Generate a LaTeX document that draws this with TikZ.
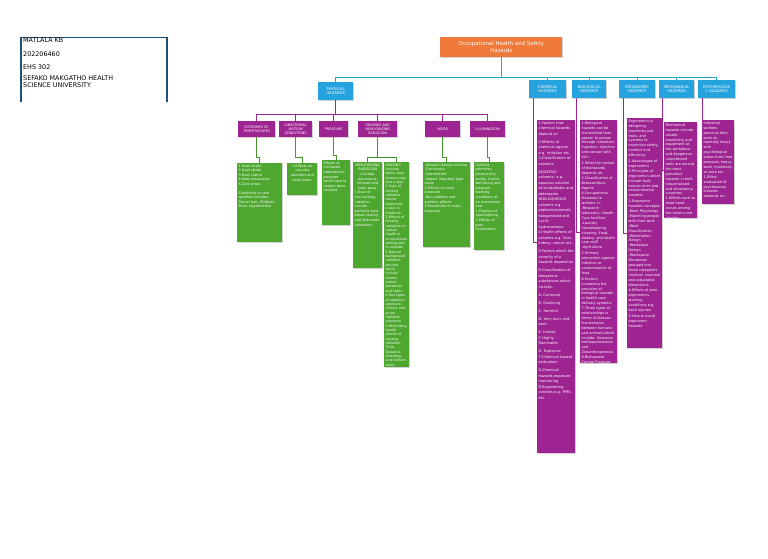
\documentclass[tikz,border=0pt]{standalone}
\usepackage{fontspec}
\setmainfont{DejaVu Sans}
\usetikzlibrary{shadows,calc}
\definecolor{hzorange}{RGB}{240,122,58}
\definecolor{hzblue}{RGB}{36,163,222}
\definecolor{hzpurple}{RGB}{158,36,146}
\definecolor{hzgreen}{RGB}{78,168,48}
\definecolor{hzline}{RGB}{30,80,120}
\newcommand{\boxtxt}[3]{\parbox[t][#2][t]{#1}{\raggedright #3}}
\tikzset{
  boxshadow/.style={drop shadow={opacity=0.35, shadow xshift=0.8pt, shadow yshift=-0.8pt}},
  rootbox/.style={fill=hzorange, text=white, anchor=north west, align=center, inner sep=1pt, font=\fontsize{5.4}{6.6}\selectfont, boxshadow},
  catbox/.style={fill=hzblue, text=white, anchor=north west, align=center, inner sep=0.5pt, minimum height=18pt, font=\fontsize{3.8}{4.6}\selectfont, boxshadow},
  subbox/.style={fill=hzpurple, text=white, anchor=north west, align=center, inner sep=0.5pt, minimum height=16pt, font=\fontsize{3.4}{4.1}\selectfont, boxshadow},
  greenbox/.style={fill=hzgreen, text=white, anchor=north west, inner sep=1.5pt, font=\fontsize{3.4}{4.6}\selectfont, boxshadow},
  purpbox/.style={fill=hzpurple, text=white, anchor=north west, inner sep=1.5pt, font=\fontsize{3.5}{4.9}\selectfont, boxshadow},
  bluelink/.style={draw=hzblue, line width=0.9pt},
  purplink/.style={draw=hzpurple, line width=0.8pt},
  greenlink/.style={draw=hzgreen!90!black, line width=0.8pt}
}
\begin{document}
\begin{tikzpicture}[x=1pt, y=-1pt]
  \useasboundingbox[fill=white] (0,0) rectangle (768,558);

  % student details
  \draw[hzline, line width=0.5pt] (20,37) -- (168,37);
  \draw[hzline, line width=1.6pt] (21,37) -- (21,102);
  \draw[hzline, line width=1.6pt] (167,37) -- (167,102);
  \node[anchor=north west, align=left, inner sep=0pt, font=\fontsize{6.4}{7.6}\selectfont] (info) at (23,37.5)
    {MATLALA KB\\[6.2pt]202206460\\[6.2pt]EHS 302\\[2.6pt]SEFAKO MAKGATHO HEALTH\\SCIENCE UNIVERSITY};

  % main topic and hazard groups
  \node[rootbox, minimum width=122pt, minimum height=20pt] (root) at (440,37) {Occupational Health and Safety\\Hazards};
  \node[catbox, minimum width=35pt] (phys) at (318,82) {PHYSICAL\\HAZARDS};
  \node[catbox, minimum width=37pt] (chem) at (529,80) {CHEMICAL\\HAZARDS};
  \node[catbox, minimum width=34pt] (bio) at (572,80) {BIOLOGICAL\\HAZARDS};
  \node[catbox, minimum width=36pt] (ergo) at (619,80) {ERGONOMIC\\HAZARDS};
  \node[catbox, minimum width=35pt] (mech) at (659,80) {MECHANICAL\\HAZARDS};
  \node[catbox, minimum width=37pt] (psych) at (698,80) {PSYCHOSOCIA\\L HAZARDS};

  \coordinate (bus) at ([yshift=-20pt]root.south);
  \draw[bluelink] (root.south) -- (bus);
  \foreach \cat in {phys,chem,bio,ergo,mech,psych}
    \draw[bluelink] (bus) -| (\cat.north);

  % physical hazards
  \node[subbox, minimum width=37pt] (temp) at (238,121) {EXTREMES OF\\TEMPERATURES};
  \node[subbox, minimum width=33pt] (vib) at (279,121) {VIBRATIONAL\\MOTION\\CONDITIONS};
  \node[subbox, minimum width=29pt] (pres) at (319,121) {PRESSURE};
  \node[subbox, minimum width=39pt] (rad) at (358,121) {IONIZING AND\\NON-IONIZING\\RADIATION};
  \node[subbox, minimum width=35pt] (noise) at (425,121) {NOISE};
  \node[subbox, minimum width=35pt] (illum) at (470,121) {ILLUMINATION};

  \coordinate (pbus) at ([yshift=-14pt]phys.south);
  \draw[purplink] (phys.south) -- (pbus);
  \foreach \sub in {temp,vib,pres,rad,noise,illum}
    \draw[purplink] (pbus) -| (\sub.north);

  \node[greenbox] (tempd) at (237,163) {\boxtxt{42pt}{76pt}{1.Heat stress\\2.Heat stroke\\3.Heat cramp\\4.Heat exhaustion\\5.Cold stress\\[4pt]Conditions in cold weather includes: Trench foot, Chilblain, Frost, Hypothermia}};
  \node[greenbox] (vibd) at (287,163) {\boxtxt{27pt}{29pt}{\centering 1.Effects on vascular disorders and white bone.}};
  \node[greenbox] (presd) at (322,160) {\boxtxt{25pt}{62pt}{Effects of increased atmospheric pressure which lead to aseptic bone necrosis}};
  \node[greenbox] (nonion) at (353,162) {\boxtxt{26pt}{103pt}{\centering NON-IONIZING RADIATION includes microwave, infrared and radio wave.\par\raggedright 1.Uses of non-ionizing radiation include warming food, broad casting and Telecomm unications.}};
  \node[greenbox, font=\fontsize{3.3}{4.35}\selectfont] (ion) at (384,162) {\boxtxt{22pt}{202pt}{IONIZING includes alpha, beta gamma rays and x-rays.\\1.Uses of ionizing radiation: cancer treatment, x-rays in medicine.\\2.Effects of ionizing radiation on human health in occupational setting and in animals.\\3.Natural background radiation sources which include cosmic, potent terrestrial and radon.\\4.Two types of radiation exposure: chronic and acute radiation exposure.\\5.Minimizing health effects of ionizing radiation: Time, Distance, Shielding and Containment.}};
  \node[greenbox] (noised) at (423,162) {\boxtxt{44pt}{82pt}{\centering General classes of noise\par\raggedright -Continuous\\-Intermittent\\-Impact (impulse) type noise\\2.Effects of noise exposure\\-Non auditory and auditory effects.\\3.Prevention of noise exposure}};
  \node[greenbox] (illumd) at (474,162) {\boxtxt{27pt}{85pt}{Lighting promotes productivity, safety, health, well being and pleasant working conditions at an economical cost.\\1.Purpose of good lighting\\2.Effects of poor illumination}};

  \draw[greenlink] (temp.south) -- ++(0,20) -| (tempd.north);
  \draw[greenlink] (vib.south) -- ++(0,20) -| (vibd.north);
  \draw[greenlink] (pres.south) -- ++(0,18) -| (presd.north);
  \draw[greenlink] (rad.south) -- ++(0,20) coordinate (radj);
  \draw[greenlink] (radj) -| (nonion.north);
  \draw[greenlink] (radj) -| (ion.north);
  \draw[greenlink] (noise.south) -- ++(0,20) -| (noised.north);
  \draw[greenlink] (illum.south) -- ++(0,20) -| (illumd.north);

  % other hazard groups
  \node[purpbox, font=\fontsize{3.6}{5.5}\selectfont] (chemd) at (537,120) {\boxtxt{35pt}{330pt}{1.Factors that chemical hazards depend on\\[2.5pt]2.Effects of chemical agents e.g. irritation etc.\\3.Classification of solvents\\[2.5pt]AQUEOUS solvents: e.g. aqueous solution of acids/alkalis and detergents.\\NON-AQUEOUS solvents e.g. aliphatic/aromatic, halogenated and cyclic hydrocarbons.\\4.Health effects of solvents e.g. liver, kidney, cancer etc.\\[2.5pt]5.Factors which the severity of a hazards depend on\\[2.5pt]6.Classification of dangerous substances which include:\\[2.5pt]A. Corrosive\\[2.5pt]B. Oxidising\\[2.5pt]C. Harmful\\[2.5pt]D. Very toxic and toxic\\[2.5pt]E. Irritant\\F. Highly flammable\\[2.5pt]G. Explosive\\7.Chemical hazard evaluation\\[2.5pt]8.Chemical hazards exposure monitoring\\9.Engineering controls e.g. PPEs etc.}};
  \node[purpbox] (biod) at (580,120) {\boxtxt{34pt}{240pt}{1.Biological hazards can be transmitted from person to person through inhalation, ingestion, injection and contact with skin.\\[1pt]2.What the control of biohazards depends on.\\3.Classification of Biohazardous Agents\\[1pt]4.Occupational Diseases to workers in: -Research laboratory -Health Care facilities -Laundry, housekeeping, cleaning -Food, dietary, and health care staff -Agriculture\\[1pt]5.Primary prevention against infection or contamination of food.\\[1pt]6.Factors increasing the provision of biological hazards in health care delivery systems.\\7.Three types of relationships in terms of disease transmission between humans and animals which include: Zoonosis, Anthropozoonosis and Zooanthroponosis.\\8.Biohazards Control Program: -Employee Health -Laboratory Safety and Health -Biological Safety Cabinet -Animal Care and Handling}};
  \node[purpbox] (ergod) at (627,118) {\boxtxt{32pt}{227pt}{Ergonomics is designing machines and tools, and systems to maximise safety, comfort and efficiency.\\[1pt]1.Advantages of ergonomics\\2.Principles of ergonomics which include fault, human error and environmental variable.\\[1pt]3.Ergonomic hazards concepts: -Work Physiology -Matching people with their work -Work Classification -Workstation Design -Workplace Design -Workspace Dimension grouped into three categories minimal, maximal and adjustable dimensions\\[1pt]4.Effects of poor ergonomics working conditions e.g. back injuries\\[1pt]5.How to avoid ergonomic hazards}};
  \node[purpbox] (mechd) at (664,122) {\boxtxt{30pt}{93pt}{Mechanical hazards include unsafe machinery and equipment at the workplace and dangerous, unprotected tools are among the most prevalent hazards in both industrialised and developing countries.\\1.Effects such as dead hand occurs among the miners and stocker.}};
  \node[purpbox] (psychd) at (702,120) {\boxtxt{29pt}{81pt}{Industrial workers perceive their work as mentally heavy with psychological stress from time pressure, heavy work, monotony at work etc.\\1.Effect evaluation of psychosocial stresses depends on...}};

  \draw[purplink] ([xshift=4pt]chem.south west) |- ([yshift=-122pt]chemd.north west);
  \draw[purplink] ([xshift=4pt]bio.south west) |- ([yshift=-112pt]biod.north west);
  \draw[purplink] ([xshift=4pt]ergo.south west) |- ([yshift=-115pt]ergod.north west);
  \draw[purplink] ([xshift=3pt]mech.south west) |- ([yshift=-48pt]mechd.north west);
  \draw[purplink] ([xshift=4pt]psych.south west) |- ([yshift=-42pt]psychd.north west);
\end{tikzpicture}
\end{document}
